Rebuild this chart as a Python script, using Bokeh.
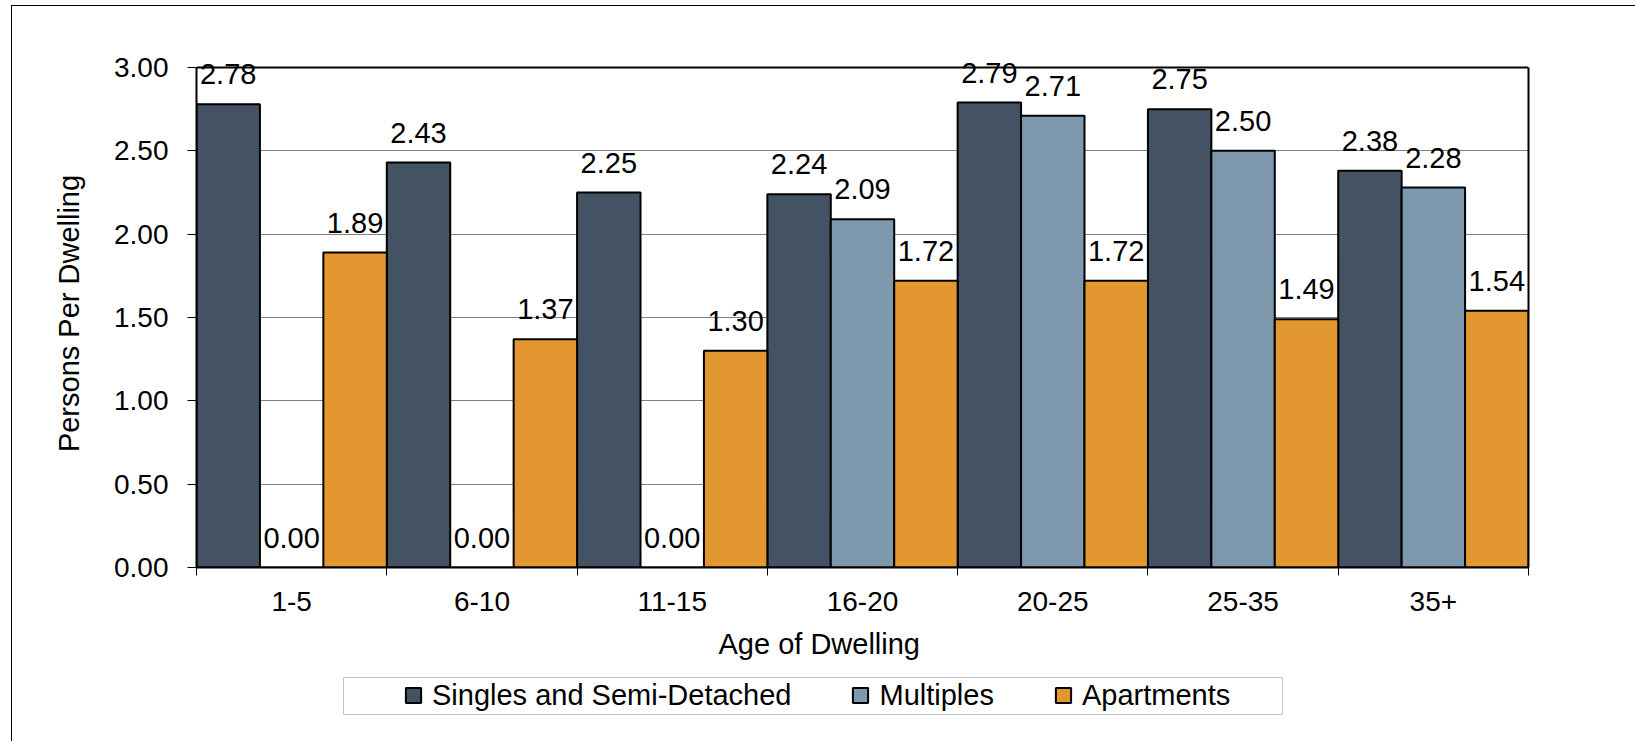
import numpy as np
from bokeh.plotting import figure
from bokeh.layouts import column
from bokeh.core.properties import value
from bokeh.models import (ColumnDataSource, Range1d, FixedTicker, NumeralTickFormatter,
                          LinearAxis, Span, Legend, LegendItem, LabelSet, Title, BoxAnnotation)
from bokeh.embed import file_html
from bokeh.resources import INLINE

# Persons per dwelling by age of dwelling and dwelling type
categories = ["1-5", "6-10", "11-15", "16-20", "20-25", "25-35", "35+"]
series_names = ["Singles and Semi-Detached", "Multiples", "Apartments"]
singles = [2.78, 2.43, 2.25, 2.24, 2.79, 2.75, 2.38]
multiples = [0.00, 0.00, 0.00, 2.09, 2.71, 2.50, 2.28]
apartments = [1.89, 1.37, 1.30, 1.72, 1.72, 1.49, 1.54]
y_ticks = [0.0, 0.5, 1.0, 1.5, 2.0, 2.5, 3.0]
colors = ["#435363", "#7e98ad", "#e39730"]

FONT = "Liberation Sans"
TICK_FS = "28px"
TEXT_FS = "29px"

# shared horizontal borders so the two stacked panels keep aligned frames
BORDER_L, BORDER_R = 184, 108
WIDTH = 1624

# value axis tops out at 3.00; a little head-room above it keeps the
# value labels of the tallest bars from being clipped by the frame
Y_MAX = 3.0
Y_HEAD = 3.048

# ---- main chart -------------------------------------------------------------
p = figure(width=WIDTH, height=668, output_backend="svg", toolbar_location=None,
           x_range=Range1d(0, len(categories)), y_range=Range1d(0, Y_HEAD),
           min_border_left=BORDER_L, min_border_right=BORDER_R,
           min_border_top=53, min_border_bottom=107,
           background_fill_color="white", border_fill_color="white",
           outline_line_color=None)

n_series = len(series_names)
bar_w = 1.0 / n_series
centers = np.arange(len(categories)) + 0.5

sources = []
for k, (vals, col) in enumerate(zip([singles, multiples, apartments], colors)):
    xs = centers + (k - (n_series - 1) / 2) * bar_w
    src = ColumnDataSource(dict(x=xs, top=vals, label=[f"{v:.2f}" for v in vals]))
    sources.append(src)
    p.vbar(x="x", top="top", bottom=0, width=bar_w, source=src,
           fill_color=col, line_color="black", line_width=2)
    p.add_layout(LabelSet(x="x", y="top", text="label", source=src,
                          text_align="center", text_baseline="alphabetic",
                          y_offset=20, text_font=value(FONT), text_font_size=TEXT_FS,
                          text_color="black"))

# x axis: category names centred, tick marks on category boundaries
p.xaxis.ticker = FixedTicker(ticks=list(centers),
                             minor_ticks=list(range(len(categories) + 1)))
p.xaxis.major_label_overrides = {float(c): cat for c, cat in zip(centers, categories)}
p.xaxis.major_tick_line_color = None
p.xaxis.major_tick_in = 0
p.xaxis.major_tick_out = 8
p.xaxis.minor_tick_in = 0
p.xaxis.minor_tick_out = 8
p.xaxis.minor_tick_line_color = "black"
p.xaxis.minor_tick_line_width = 1
p.xaxis.major_label_standoff = 16

# y axis
p.yaxis.ticker = FixedTicker(ticks=y_ticks)
p.yaxis.formatter = NumeralTickFormatter(format="0.00")
p.yaxis.bounds = (0, Y_MAX)
p.yaxis.major_tick_in = 0
p.yaxis.major_tick_out = 9
p.yaxis.minor_tick_line_color = None
p.yaxis.major_label_standoff = 19
p.yaxis.axis_label = "Persons Per Dwelling"
p.yaxis.axis_label_standoff = 26

for ax in (p.xaxis, p.yaxis):
    ax.axis_line_color = "black"
    ax.axis_line_width = 2
    ax.major_tick_line_width = 1
    ax.major_label_text_font = FONT
    ax.major_label_text_font_size = TICK_FS
    ax.major_label_text_color = "black"
    ax.axis_label_text_font = FONT
    ax.axis_label_text_font_size = TEXT_FS
    ax.axis_label_text_font_style = "normal"
    ax.axis_label_text_color = "black"

# plot-area border: right edge as a bare axis, top edge at 3.00
p.add_layout(LinearAxis(ticker=FixedTicker(ticks=[]), bounds=(0, Y_MAX),
                        axis_line_color="black", axis_line_width=2,
                        major_tick_line_color=None, minor_tick_line_color=None), "right")

p.xgrid.visible = False
p.ygrid.ticker = FixedTicker(ticks=y_ticks)
p.ygrid.grid_line_color = "#808080"
p.ygrid.grid_line_width = 1

p.add_layout(Span(location=Y_MAX, dimension="width", line_color="black", line_width=2))

# x axis title, centred on the whole chart area rather than the plot frame
p.add_layout(Title(text="Age of Dwelling", align="left", offset=522, standoff=24,
                   text_font=FONT, text_font_size=TEXT_FS, text_font_style="normal",
                   text_color="black"), "below")

# ---- legend strip ------------------------------------------------------------
lg = figure(width=WIDTH, height=68, output_backend="svg", toolbar_location=None,
            x_axis_type=None, y_axis_type=None,
            x_range=Range1d(0, len(categories)), y_range=Range1d(10, 11),
            min_border_left=BORDER_L, min_border_right=BORDER_R,
            min_border_top=2, min_border_bottom=27,
            background_fill_color="white", border_fill_color="white",
            outline_line_color=None)

# zero-size square markers: they carry each series' style for the legend
# swatches without drawing anything in the strip itself
swatches = []
for src, col in zip(sources, colors):
    swatches.append(lg.scatter(x="x", y="top", source=src, marker="square", size=0,
                               fill_color=col, line_color="black", line_width=2))

# legend box
lg.add_layout(BoxAnnotation(left=331, right=1270, top=3, bottom=40,
                            left_units="canvas", right_units="canvas",
                            top_units="canvas", bottom_units="canvas",
                            fill_alpha=0, line_color="#404040", line_width=1))

legend = Legend(items=[LegendItem(label=n, renderers=[r]) for n, r in zip(series_names, swatches)],
                orientation="horizontal", location=(198, 1),
                label_text_font=FONT, label_text_font_size=TEXT_FS, label_text_color="black",
                glyph_width=38, glyph_height=38, label_standoff=0, spacing=50,
                padding=0, margin=0, border_line_color=None, background_fill_alpha=0)
lg.add_layout(legend, "center")

root = column(p, lg, margin=(6, 0, 0, 12),
              styles={"box-shadow": "-1px -1px 0 0 #000000"})

open("out.html", "w").write(file_html(root, INLINE))
